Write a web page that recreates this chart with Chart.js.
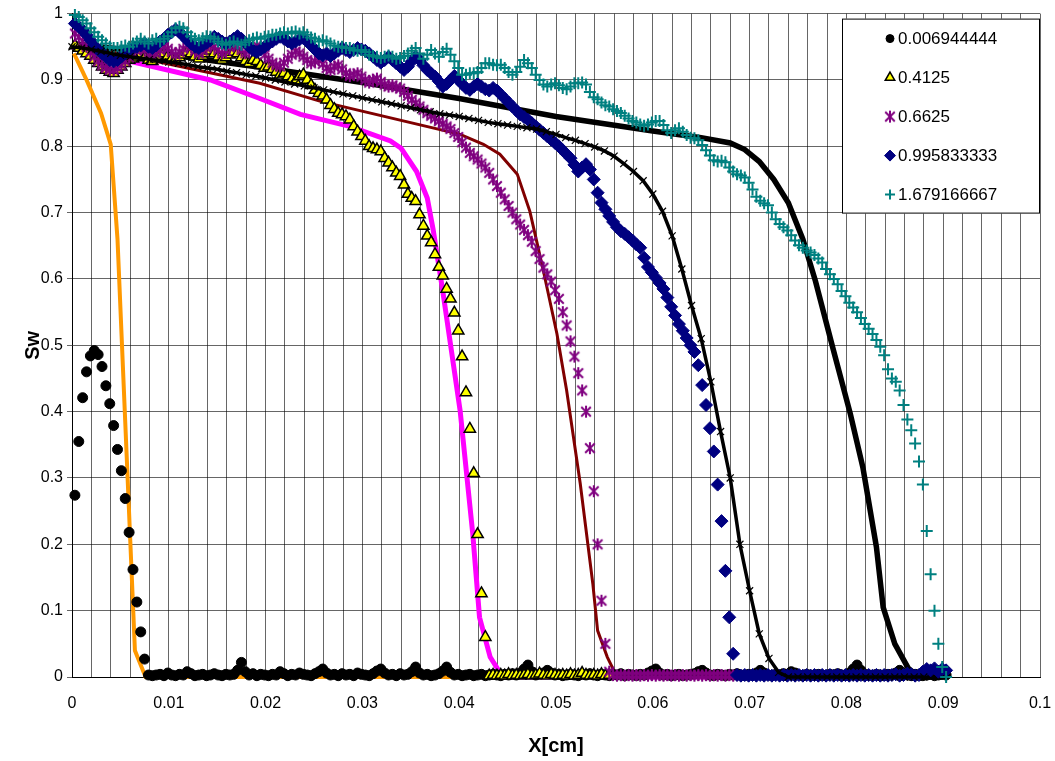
<!DOCTYPE html>
<html>
<head>
<meta charset="utf-8">
<script src="https://cdn.jsdelivr.net/npm/chart.js@4.4.1/dist/chart.umd.min.js"></script>
<style>
  html, body { margin: 0; background: #fff; }
  canvas { display: block; }
</style>
</head>
<body>
<canvas id="swChart" width="1055" height="761"></canvas>
<script>
// grid nodes [cm] shared by the measured profiles
const xGrid = [
  0.0003, 0.0007, 0.0011, 0.0015, 0.0019, 0.0023, 0.0027, 0.0031, 0.0035, 0.0039,
  0.0043, 0.0047, 0.0051, 0.0055, 0.0059, 0.0063, 0.0067, 0.0071, 0.0075, 0.0079,
  0.0083, 0.0087, 0.0091, 0.0095, 0.0099, 0.0103, 0.0107, 0.0111, 0.0115, 0.0119,
  0.0123, 0.0127, 0.0131, 0.0135, 0.0139, 0.0143, 0.0147, 0.0151, 0.0155, 0.0159,
  0.0163, 0.0167, 0.0171, 0.0175, 0.0179, 0.0183, 0.0187, 0.0191, 0.0195, 0.0199,
  0.0203, 0.0207, 0.0211, 0.0215, 0.0219, 0.0223, 0.0227, 0.0231, 0.0235, 0.0239,
  0.0243, 0.0247, 0.0251, 0.0255, 0.0259, 0.0263, 0.0267, 0.0271, 0.0275, 0.0279,
  0.0283, 0.0287, 0.0291, 0.0295, 0.0299, 0.0303, 0.0307, 0.0311, 0.0315, 0.0319,
  0.0323, 0.0327, 0.0331, 0.0335, 0.0339, 0.0343, 0.0347, 0.0351, 0.0355, 0.0359,
  0.0363, 0.0367, 0.0371, 0.0375, 0.0379, 0.0383, 0.0387, 0.0391, 0.0395, 0.0399,
  0.0403, 0.0407, 0.0411, 0.0415, 0.0419, 0.0423, 0.0427, 0.0431, 0.0435, 0.0439,
  0.0443, 0.0447, 0.0451, 0.0455, 0.0459, 0.0463, 0.0467, 0.0471, 0.0475, 0.0479,
  0.0483, 0.0487, 0.0491, 0.0495, 0.0499, 0.0503, 0.0507, 0.0511, 0.0515, 0.0519,
  0.0523, 0.0527, 0.0531, 0.0535, 0.0539, 0.0543, 0.0547, 0.0551, 0.0555, 0.0559,
  0.0563, 0.0567, 0.0571, 0.0575, 0.0579, 0.0583, 0.0587, 0.0591, 0.0595, 0.0599,
  0.0603, 0.0607, 0.0611, 0.0615, 0.0619, 0.0623, 0.0627, 0.0631, 0.0635, 0.0639,
  0.0643, 0.0647, 0.0651, 0.0655, 0.0659, 0.0663, 0.0667, 0.0671, 0.0675, 0.0679,
  0.0683, 0.0687, 0.0691, 0.0695, 0.0699, 0.0703, 0.0707, 0.0711, 0.0715, 0.0719,
  0.0723, 0.0727, 0.0731, 0.0735, 0.0739, 0.0743, 0.0747, 0.0751, 0.0755, 0.0759,
  0.0763, 0.0767, 0.0771, 0.0775, 0.0779, 0.0783, 0.0787, 0.0791, 0.0795, 0.0799,
  0.0803, 0.0807, 0.0811, 0.0815, 0.0819, 0.0823, 0.0827, 0.0831, 0.0835, 0.0839,
  0.0843, 0.0847, 0.0851, 0.0855, 0.0859, 0.0863, 0.0867, 0.0871, 0.0875, 0.0879,
  0.0883, 0.0887, 0.0891, 0.0895, 0.0899, 0.0903
];

// measured Sw, one array per time
const sw0069 = [
  0.274, 0.355, 0.421, 0.46, 0.484, 0.492, 0.486, 0.468, 0.439, 0.412,
  0.379, 0.343, 0.311, 0.269, 0.218, 0.162, 0.113, 0.068, 0.027, 0.003,
  0.002, 0.003, 0.004, 0.002, 0.006, 0.003, 0.002, 0.004, 0.003, 0.008,
  0.005, 0.002, 0.003, 0.004, 0.002, 0.003, 0.005, 0.003, 0.002, 0.004,
  0.003, 0.004, 0.01, 0.022, 0.008, 0.003, 0.005, 0.002, 0.004, 0.003,
  0.002, 0.004, 0.003, 0.008, 0.005, 0.002, 0.004, 0.003, 0.006, 0.004,
  0.003, 0.002, 0.005, 0.008, 0.012, 0.006, 0.003, 0.004, 0.002, 0.005,
  0.003, 0.004, 0.002, 0.006, 0.004, 0.003, 0.002, 0.005, 0.009, 0.012,
  0.006, 0.003, 0.004, 0.002, 0.005, 0.003, 0.004, 0.008, 0.015, 0.006,
  0.003, 0.004, 0.002, 0.003, 0.005, 0.009, 0.015, 0.007, 0.003, 0.004,
  0.002, 0.003, 0.004, 0.002, 0.003, 0.004, 0.002, 0.003, 0.004, 0.003,
  0.002, 0.004, 0.003, 0.005, 0.003, 0.006, 0.012, 0.018, 0.008, 0.003,
  0.004, 0.006, 0.01, 0.006, 0.003, 0.004, 0.002, 0.003, 0.004, 0.003,
  0.002, 0.004, 0.003, 0.005, 0.003, 0.002, 0.004, 0.003, 0.002, 0.004,
  0.003, 0.005, 0.002, 0.004, 0.003, 0.002, 0.004, 0.003, 0.006, 0.009,
  0.012, 0.006, 0.003, 0.004, 0.002, 0.003, 0.004, 0.002, 0.003, 0.004,
  0.005, 0.008, 0.01, 0.006, 0.003, 0.002, 0.004, 0.003, 0.002, 0.004,
  0.003, 0.005, 0.003, 0.002, 0.004, 0.003, 0.006, 0.01, 0.006, 0.003,
  0.002, 0.004, 0.003, 0.005, 0.004, 0.008, 0.006, 0.003, 0.002, 0.004,
  0.003, 0.002, 0.004, 0.003, 0.002, 0.004, 0.003, 0.005, 0.003, 0.002,
  0.006, 0.012, 0.018, 0.01, 0.004, 0.003, 0.002, 0.004, 0.003, 0.002,
  0.004, 0.003, 0.006, 0.01, 0.005, 0.003, 0.002, 0.004, 0.003, 0.002,
  0.003, 0.004, 0.002, 0.003, 0.004, 0.003
];
const sw4125 = [
  0.952, 0.948, 0.944, 0.94, 0.936, 0.93, 0.925, 0.92, 0.915, 0.912,
  0.91, 0.915, 0.92, 0.925, 0.93, 0.932, 0.935, 0.938, 0.934, 0.93,
  0.928, 0.932, 0.936, 0.94, 0.936, 0.932, 0.93, 0.934, 0.938, 0.942,
  0.94, 0.935, 0.932, 0.936, 0.94, 0.944, 0.94, 0.935, 0.93, 0.934,
  0.938, 0.942, 0.94, 0.934, 0.928, 0.925, 0.93, 0.928, 0.922, 0.918,
  0.92, 0.916, 0.912, 0.908, 0.91, 0.905, 0.9, 0.898, 0.905, 0.908,
  0.9, 0.892, 0.885, 0.88, 0.876, 0.87, 0.862, 0.856, 0.85, 0.848,
  0.845, 0.84, 0.83, 0.822, 0.815, 0.808, 0.8, 0.797, 0.795, 0.792,
  0.782, 0.775, 0.768, 0.76, 0.755, 0.742, 0.728, 0.722, 0.717, 0.697,
  0.68, 0.665, 0.655, 0.637, 0.618, 0.605, 0.585, 0.57, 0.549, 0.522,
  0.483, 0.429, 0.374, 0.307, 0.215, 0.126, 0.06, 0.002, 0.003, 0.002,
  0.003, 0.002, 0.004, 0.002, 0.003, 0.002, 0.003, 0.004, 0.002, 0.003,
  0.005, 0.003, 0.002, 0.004, 0.003, 0.002, 0.003, 0.002, 0.004, 0.002,
  0.003, 0.006, 0.003, 0.002, 0.003, 0.002, 0.004, 0.002, 0.003
];
const sw6625 = [
  0.97, 0.965, 0.958, 0.95, 0.942, 0.935, 0.928, 0.922, 0.918, 0.915,
  0.915, 0.918, 0.922, 0.928, 0.934, 0.94, 0.944, 0.948, 0.945, 0.94,
  0.937, 0.94, 0.945, 0.95, 0.947, 0.942, 0.938, 0.942, 0.947, 0.952,
  0.949, 0.944, 0.94, 0.944, 0.948, 0.952, 0.95, 0.945, 0.94, 0.944,
  0.949, 0.953, 0.95, 0.945, 0.94, 0.944, 0.948, 0.952, 0.946, 0.938,
  0.932, 0.926, 0.922, 0.92, 0.926, 0.932, 0.938, 0.943, 0.94, 0.935,
  0.93, 0.925, 0.928, 0.93, 0.924, 0.918, 0.915, 0.92, 0.922, 0.916,
  0.91, 0.906, 0.908, 0.91, 0.905, 0.9, 0.896, 0.9, 0.902, 0.897,
  0.893, 0.89, 0.892, 0.889, 0.887, 0.882, 0.876, 0.87, 0.865, 0.86,
  0.855, 0.85, 0.846, 0.842, 0.838, 0.834, 0.83, 0.826, 0.82, 0.814,
  0.806, 0.798, 0.79, 0.785, 0.78, 0.774, 0.768, 0.76, 0.75, 0.74,
  0.73, 0.72, 0.71, 0.7, 0.69, 0.682, 0.674, 0.666, 0.656, 0.642,
  0.63, 0.617, 0.607, 0.596, 0.583, 0.57, 0.55, 0.53, 0.506, 0.483,
  0.458, 0.432, 0.4, 0.345, 0.28, 0.2, 0.115, 0.05, 0.008, 0.003,
  0.002, 0.003, 0.002, 0.003, 0.002, 0.003, 0.002, 0.003, 0.002, 0.003,
  0.002, 0.003, 0.002, 0.003, 0.002, 0.003, 0.002, 0.003, 0.002, 0.003,
  0.002, 0.003, 0.002, 0.003, 0.002, 0.003, 0.002, 0.003, 0.002, 0.003,
  0.002, 0.003
];
const sw9958 = [
  0.985, 0.98, 0.975, 0.968, 0.96, 0.952, 0.945, 0.94, 0.935, 0.93,
  0.928, 0.93, 0.935, 0.94, 0.945, 0.948, 0.95, 0.952, 0.955, 0.95,
  0.948, 0.952, 0.958, 0.962, 0.968, 0.972, 0.976, 0.972, 0.966, 0.96,
  0.955, 0.95, 0.948, 0.952, 0.956, 0.96, 0.965, 0.962, 0.958, 0.955,
  0.958, 0.962, 0.966, 0.962, 0.956, 0.95, 0.945, 0.942, 0.946, 0.95,
  0.954, 0.958, 0.962, 0.965, 0.962, 0.958, 0.955, 0.958, 0.961, 0.963,
  0.958, 0.952, 0.946, 0.94, 0.937, 0.94, 0.936, 0.94, 0.944, 0.948,
  0.945, 0.942, 0.945, 0.948, 0.946, 0.944, 0.94, 0.935, 0.93, 0.926,
  0.93, 0.935, 0.93, 0.925, 0.92, 0.915, 0.92, 0.928, 0.935, 0.93,
  0.922, 0.915, 0.91, 0.905, 0.898, 0.89, 0.894, 0.9, 0.906, 0.9,
  0.894, 0.888, 0.885, 0.89, 0.894, 0.89, 0.886, 0.884, 0.888, 0.884,
  0.878, 0.872, 0.866, 0.86, 0.854, 0.848, 0.844, 0.84, 0.835, 0.83,
  0.825, 0.82, 0.815, 0.81, 0.805, 0.8, 0.794, 0.788, 0.782, 0.772,
  0.762, 0.768, 0.773, 0.765, 0.75, 0.73, 0.715, 0.705, 0.695, 0.686,
  0.678, 0.672, 0.668, 0.663, 0.658, 0.652, 0.647, 0.632, 0.618, 0.61,
  0.602, 0.594, 0.585, 0.572, 0.558, 0.545, 0.532, 0.522, 0.511, 0.5,
  0.49, 0.47, 0.44, 0.41, 0.375, 0.34, 0.29, 0.235, 0.16, 0.09,
  0.035, 0.003, 0.002, 0.003, 0.002, 0.003, 0.002, 0.003, 0.002, 0.003,
  0.002, 0.003, 0.002, 0.003, 0.002, 0.003, 0.002, 0.003, 0.002, 0.003,
  0.002, 0.003, 0.002, 0.003, 0.002, 0.003, 0.002, 0.003, 0.002, 0.003,
  0.002, 0.003, 0.002, 0.003, 0.002, 0.003, 0.002, 0.003, 0.002, 0.003,
  0.002, 0.003, 0.004, 0.002, 0.003, 0.005, 0.004, 0.002, 0.003, 0.008,
  0.012, 0.01, 0.013, 0.008, 0.012, 0.01
];
const sw16792 = [
  0.998, 0.995, 0.99, 0.985, 0.978, 0.972, 0.965, 0.96, 0.955, 0.95,
  0.948, 0.948, 0.95, 0.952, 0.95, 0.955, 0.958, 0.962, 0.958, 0.955,
  0.96, 0.962, 0.958, 0.962, 0.966, 0.972, 0.978, 0.98, 0.978, 0.972,
  0.966, 0.962, 0.96, 0.963, 0.966, 0.965, 0.962, 0.958, 0.955, 0.953,
  0.956, 0.958, 0.955, 0.953, 0.957, 0.96, 0.962, 0.964, 0.962, 0.965,
  0.966, 0.968, 0.968, 0.97, 0.972, 0.97, 0.972, 0.973, 0.97, 0.972,
  0.968, 0.964, 0.962, 0.958, 0.96, 0.958, 0.955, 0.952, 0.95, 0.95,
  0.948, 0.948, 0.945, 0.944, 0.945, 0.942, 0.938, 0.936, 0.935, 0.933,
  0.935, 0.937, 0.935, 0.932, 0.933, 0.936, 0.94, 0.944, 0.948, 0.94,
  0.932, 0.938, 0.945, 0.94, 0.935, 0.942, 0.947, 0.938, 0.928, 0.918,
  0.908, 0.908, 0.91, 0.91, 0.912, 0.918, 0.925, 0.925, 0.923, 0.922,
  0.923, 0.918, 0.912, 0.908, 0.912, 0.92, 0.93, 0.925, 0.918, 0.908,
  0.9, 0.893, 0.89, 0.893, 0.895, 0.892, 0.888, 0.886, 0.89, 0.895,
  0.895, 0.896, 0.893, 0.882, 0.874, 0.871, 0.866, 0.862, 0.86, 0.856,
  0.853, 0.85, 0.846, 0.842, 0.838, 0.836, 0.833, 0.831, 0.833, 0.836,
  0.838, 0.838, 0.832, 0.824, 0.82, 0.824, 0.827, 0.822, 0.817, 0.813,
  0.812, 0.809, 0.802, 0.794, 0.786, 0.779, 0.777, 0.778, 0.776, 0.768,
  0.762, 0.758, 0.756, 0.753, 0.745, 0.735, 0.724, 0.718, 0.714, 0.711,
  0.7, 0.69, 0.683, 0.678, 0.673, 0.666, 0.658, 0.651, 0.647, 0.643,
  0.64, 0.636, 0.631, 0.625, 0.615, 0.607, 0.6, 0.592, 0.582, 0.574,
  0.564, 0.557, 0.55, 0.541, 0.532, 0.525, 0.517, 0.508, 0.498, 0.485,
  0.464, 0.45, 0.445, 0.432, 0.41, 0.388, 0.372, 0.352, 0.325, 0.29,
  0.22, 0.155, 0.1, 0.05, 0.015, 0
];

// simulated profiles (lines)
const orangeX = [0.0002, 0.0015, 0.003, 0.004, 0.0047, 0.0065, 0.0076, 0.09];
const orangeY = [0.94, 0.9, 0.85, 0.803, 0.66, 0.04, 0, 0];

const magentaX = [0, 0.006, 0.0143, 0.0194, 0.0236, 0.0287, 0.0329, 0.034, 0.0356, 0.0367,
  0.0373, 0.0383, 0.0401, 0.0414, 0.0421, 0.0432, 0.0445, 0.089];
const magentaY = [0.95, 0.928, 0.9, 0.872, 0.848, 0.83, 0.808, 0.797, 0.762, 0.722,
  0.675, 0.582, 0.401, 0.216, 0.09, 0.03, 0, 0];

const maroonX = [0, 0.008, 0.0194, 0.0256, 0.0401, 0.0425, 0.0442, 0.046, 0.0473, 0.048,
  0.0487, 0.0501, 0.0511, 0.0525, 0.0538, 0.0543, 0.0553, 0.0563, 0.089];
const maroonY = [0.955, 0.93, 0.895, 0.868, 0.818, 0.803, 0.788, 0.758, 0.702, 0.657,
  0.612, 0.517, 0.432, 0.292, 0.141, 0.07, 0.03, 0, 0];

const blackX = [0, 0.01, 0.02, 0.03, 0.04, 0.05, 0.06, 0.065, 0.068, 0.0695, 0.071,
  0.0725, 0.074, 0.0755, 0.0768, 0.0786, 0.0804, 0.0817, 0.0831, 0.0838, 0.085,
  0.0864, 0.0875, 0.09];
const blackY = [0.955, 0.938, 0.918, 0.896, 0.872, 0.845, 0.823, 0.813, 0.805, 0.795, 0.777,
  0.75, 0.715, 0.66, 0.597, 0.496, 0.397, 0.316, 0.196, 0.105, 0.05,
  0.013, 0, 0];

const crossX = [
  0, 0.001, 0.002, 0.003, 0.004, 0.005, 0.006, 0.007, 0.008, 0.009,
  0.01, 0.011, 0.012, 0.013, 0.014, 0.015, 0.016, 0.017, 0.018, 0.019,
  0.02, 0.021, 0.022, 0.023, 0.024, 0.025, 0.026, 0.027, 0.028, 0.029,
  0.03, 0.031, 0.032, 0.033, 0.034, 0.035, 0.036, 0.037, 0.038, 0.039,
  0.04, 0.041, 0.042, 0.043, 0.044, 0.045, 0.046, 0.047, 0.048, 0.049,
  0.05, 0.051, 0.052, 0.053, 0.054, 0.055, 0.056, 0.057, 0.058, 0.059,
  0.06, 0.061, 0.062, 0.063, 0.064, 0.065, 0.066, 0.067, 0.068, 0.069,
  0.07, 0.071, 0.072, 0.073, 0.074, 0.075, 0.076, 0.077, 0.078, 0.079,
  0.08, 0.081, 0.082, 0.083, 0.084, 0.085, 0.086, 0.087, 0.088
];
const crossY = [
  0.95, 0.948, 0.946, 0.943, 0.94, 0.937, 0.935, 0.933, 0.931, 0.929,
  0.927, 0.925, 0.923, 0.92, 0.918, 0.916, 0.913, 0.911, 0.908, 0.906,
  0.903, 0.9, 0.897, 0.894, 0.891, 0.888, 0.885, 0.882, 0.879, 0.876,
  0.873, 0.87, 0.867, 0.864, 0.861, 0.858, 0.855, 0.852, 0.849, 0.847,
  0.845, 0.842, 0.839, 0.836, 0.834, 0.832, 0.83, 0.828, 0.826, 0.822,
  0.818, 0.813, 0.809, 0.804, 0.799, 0.793, 0.785, 0.774, 0.762, 0.748,
  0.728, 0.702, 0.665, 0.615, 0.56, 0.51, 0.445, 0.37, 0.3, 0.2,
  0.13, 0.065, 0.028, 0.007, 0, 0, 0, 0, 0, 0,
  0, 0, 0, 0, 0, 0, 0, 0, 0
];

const xTickStep = 0.002;
const yTickStep = 0.1;

const FONT = "'Liberation Sans', Arial, sans-serif";
Chart.defaults.font.family = FONT;
Chart.defaults.color = '#000';

function pairs(xs, ys) {
  return ys.map((y, i) => ({ x: xs[i], y: y }));
}

// Excel style asterisk: an X with a vertical bar through it
function asterisk(size, color) {
  const c = document.createElement('canvas');
  c.width = size;
  c.height = size;
  const g = c.getContext('2d');
  const m = size / 2, r = size / 2 - 1, d = r * 0.8;
  g.strokeStyle = color;
  g.lineWidth = 2;
  g.beginPath();
  g.moveTo(m - d, m - d); g.lineTo(m + d, m + d);
  g.moveTo(m + d, m - d); g.lineTo(m - d, m + d);
  g.moveTo(m, m - r); g.lineTo(m, m + r);
  g.stroke();
  return c;
}

function markers(label, data, style, fill, stroke, radius, bw, order) {
  return {
    label: label, data: data, showLine: false, inLegend: true, order: order,
    pointStyle: style, pointRadius: radius, pointBorderWidth: bw,
    pointBackgroundColor: fill, pointBorderColor: stroke, clip: false
  };
}

function curve(data, color, width, order) {
  return {
    data: data, showLine: true, borderColor: color, borderWidth: width,
    pointRadius: 0, fill: false, tension: 0, order: order, clip: false
  };
}

const legendBox = {
  id: 'legendBox',
  afterDraw(chart) {
    const ctx = chart.ctx;
    const w = 198, h = 195;
    const left = chart.chartArea.right - w, top = chart.chartArea.top + 5;
    ctx.save();
    ctx.fillStyle = '#fff';
    ctx.fillRect(left, top, w, h);
    ctx.strokeStyle = '#000';
    ctx.lineWidth = 1;
    ctx.strokeRect(left + 0.5, top + 0.5, w - 1, h - 1);
    chart.data.datasets.filter(d => d.inLegend).forEach((d, i) => {
      const y = top + 20 + i * 39;
      ctx.fillStyle = d.pointBackgroundColor;
      ctx.strokeStyle = d.pointBorderColor;
      ctx.lineWidth = d.pointBorderWidth;
      Chart.helpers.drawPoint(ctx, {
        pointStyle: d.pointStyle, radius: d.pointRadius - 1, rotation: 0,
        borderWidth: d.pointBorderWidth
      }, left + 48, y);
      ctx.fillStyle = '#000';
      ctx.font = '17px ' + FONT;
      ctx.textBaseline = 'middle';
      ctx.fillText(d.label, left + 56, y + 1);
    });
    ctx.restore();
  }
};

new Chart(document.getElementById('swChart'), {
  type: 'scatter',
  data: {
    datasets: [
      markers('0.006944444', pairs(xGrid, sw0069), 'circle', '#000', '#000', 5, 1, 6),
      markers('0.4125', pairs(xGrid, sw4125), 'triangle', '#ffff00', '#000', 6.5, 1.5, 5),
      markers('0.6625', pairs(xGrid, sw6625), asterisk(14, '#800080'), '#800080', '#800080', 7, 2, 4),
      markers('0.995833333', pairs(xGrid, sw9958), 'rectRot', '#000080', '#000080', 6.5, 1, 3),
      markers('1.679166667', pairs(xGrid, sw16792), 'cross', '#008080', '#008080', 6, 2, 2),
      curve(pairs(orangeX, orangeY), '#ff9900', 4, 10),
      curve(pairs(maroonX, maroonY), '#800000', 3, 9),
      curve(pairs(magentaX, magentaY), '#ff00ff', 5, 8),
      curve(pairs(blackX, blackY), '#000', 5.5, 7),
      Object.assign(curve(pairs(crossX, crossY), '#000', 3.5, 1), {
        pointStyle: 'crossRot', pointRadius: 5, pointBorderWidth: 1.2,
        pointBorderColor: '#000', pointBackgroundColor: '#000'
      })
    ]
  },
  options: {
    responsive: false,
    animation: false,
    events: [],
    layout: { padding: { left: 0, top: 12, right: 0, bottom: 0 } },
    plugins: {
      legend: { display: false },
      tooltip: { enabled: false }
    },
    scales: {
      x: {
        type: 'linear',
        min: 0,
        max: 0.1,
        // fixed band under the plot; keep the plot's right edge 15px from the canvas edge
        afterFit: s => { s.height = 84; s.paddingRight = 15; },
        ticks: {
          stepSize: xTickStep,
          maxTicksLimit: 60,
          autoSkip: false,
          maxRotation: 0,
          padding: 17,
          font: { size: 16 },
          callback: v => (Math.round(v * 500) % 5 === 0 ? String(+v.toFixed(2)) : '')
        },
        grid: { color: 'rgba(0,0,0,0.6)', lineWidth: 1, drawTicks: false },
        border: { color: '#000', width: 1 },
        title: {
          display: true, text: 'X[cm]',
          font: { size: 20, weight: 'bold' },
          padding: { top: 0, bottom: 3 }
        }
      },
      y: {
        min: 0,
        max: 1,
        afterFit: s => { s.width = 72; },
        ticks: {
          stepSize: yTickStep,
          padding: 4,
          font: { size: 16 },
          callback: v => String(+v.toFixed(1))
        },
        grid: { color: 'rgba(0,0,0,0.6)', lineWidth: 1, tickLength: 5 },
        border: { color: '#000', width: 1 },
        title: {
          display: true, text: 'Sw',
          font: { size: 20, weight: 'bold' },
          padding: { top: 21, bottom: 0 }
        }
      }
    }
  },
  plugins: [legendBox]
});
</script>
</body>
</html>
